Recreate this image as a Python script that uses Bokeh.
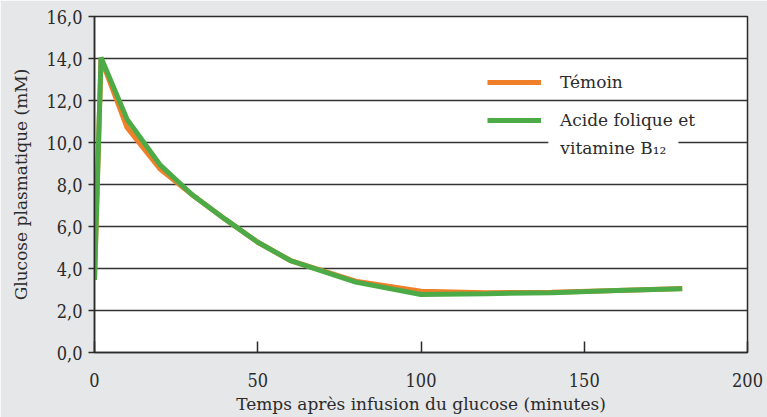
from bokeh.plotting import figure
from bokeh.models import Range1d, FixedTicker, Legend, LegendItem, Label
from bokeh.embed import file_html
from bokeh.resources import INLINE

# Data
minutes = [0, 2, 10, 20, 30, 40, 50, 60, 80, 100, 120, 140, 160, 180]
temoin = [3.45, 14.0, 10.7, 8.75, 7.5, 6.35, 5.25, 4.38, 3.4, 2.92, 2.85, 2.87, 2.95, 3.05]
acide_folique_b12 = [3.45, 14.05, 11.1, 8.95, 7.5, 6.35, 5.25, 4.38, 3.35, 2.76, 2.8, 2.85, 2.95, 3.03]

x_ticks = [0, 50, 100, 150, 200]
y_ticks = [0, 2, 4, 6, 8, 10, 12, 14, 16]
y_tick_labels = ["0,0", "2,0", "4,0", "6,0", "8,0", "10,0", "12,0", "14,0", "16,0"]

series_names = ["Témoin", "Acide folique et"]
series_name_cont = "vitamine B\u2081\u2082"

FONT = "DejaVu Serif"
TICKFONT = "DejaVu Serif Condensed"
BG = "#e6e7e9"
INK = "#2b2b2b"
ORANGE = "#f07f2a"
GREEN = "#4cab46"

p = figure(width=767, height=417, output_backend="svg", toolbar_location=None,
           x_range=Range1d(0, 200), y_range=Range1d(0, 16),
           min_border_left=94, min_border_right=20, min_border_top=16, min_border_bottom=65)
p.background_fill_color = "white"
p.border_fill_color = BG
p.outline_line_color = INK
p.outline_line_width = 1.5

# grid
p.xgrid.grid_line_color = None
p.ygrid.ticker = FixedTicker(ticks=y_ticks)
p.ygrid.grid_line_color = "#333333"
p.ygrid.grid_line_width = 1.5

# x axis
xa = p.xaxis[0]
xa.ticker = FixedTicker(ticks=x_ticks)
xa.major_tick_in = 11
xa.major_tick_out = 0
xa.minor_tick_line_color = None
xa.axis_line_color = INK
xa.axis_line_width = 1.5
xa.major_tick_line_color = INK
xa.major_tick_line_width = 1.5
xa.major_label_standoff = 20
xa.major_label_text_font = TICKFONT
xa.major_label_text_font_size = "18px"
xa.major_label_text_color = INK
xa.axis_label = "Temps après infusion du glucose (minutes)"
xa.axis_label_text_font = FONT
xa.axis_label_text_font_size = "17px"
xa.axis_label_text_font_style = "normal"
xa.axis_label_text_color = INK
xa.axis_label_standoff = 4

# y axis
ya = p.yaxis[0]
ya.ticker = FixedTicker(ticks=y_ticks)
ya.major_label_overrides = {t: lab for t, lab in zip(y_ticks, y_tick_labels)}
ya.major_tick_in = 0
ya.major_tick_out = 6
ya.minor_tick_line_color = None
ya.axis_line_color = INK
ya.axis_line_width = 1.5
ya.major_tick_line_color = INK
ya.major_tick_line_width = 1.5
ya.major_label_standoff = 6
ya.major_label_text_font = TICKFONT
ya.major_label_text_font_size = "18px"
ya.major_label_text_color = INK
ya.axis_label = "Glucose plasmatique (mM)"
ya.axis_label_text_font = FONT
ya.axis_label_text_font_size = "17px"
ya.axis_label_text_font_style = "normal"
ya.axis_label_text_color = INK
ya.axis_label_standoff = 12

r1 = p.line(minutes, temoin, line_color=ORANGE, line_width=5)
r2 = p.line(minutes, acide_folique_b12, line_color=GREEN, line_width=5)

legend = Legend(items=[LegendItem(label=series_names[0], renderers=[r1]),
                       LegendItem(label=series_names[1], renderers=[r2])],
                location=(393, 222), padding=0, margin=0, spacing=18,
                glyph_width=54, glyph_height=20, label_height=20, label_standoff=19,
                border_line_color=None, background_fill_alpha=0,
                label_text_font=FONT, label_text_font_size="17px", label_text_color=INK)
p.add_layout(legend)

cont = Label(x=139.0, y=9.72, text=series_name_cont, text_font=FONT, text_font_size="17px",
             text_color=INK, text_baseline="middle", background_fill_color="white",
             padding=12)
p.add_layout(cont)

open("out.html", "w").write(file_html(p, INLINE))
